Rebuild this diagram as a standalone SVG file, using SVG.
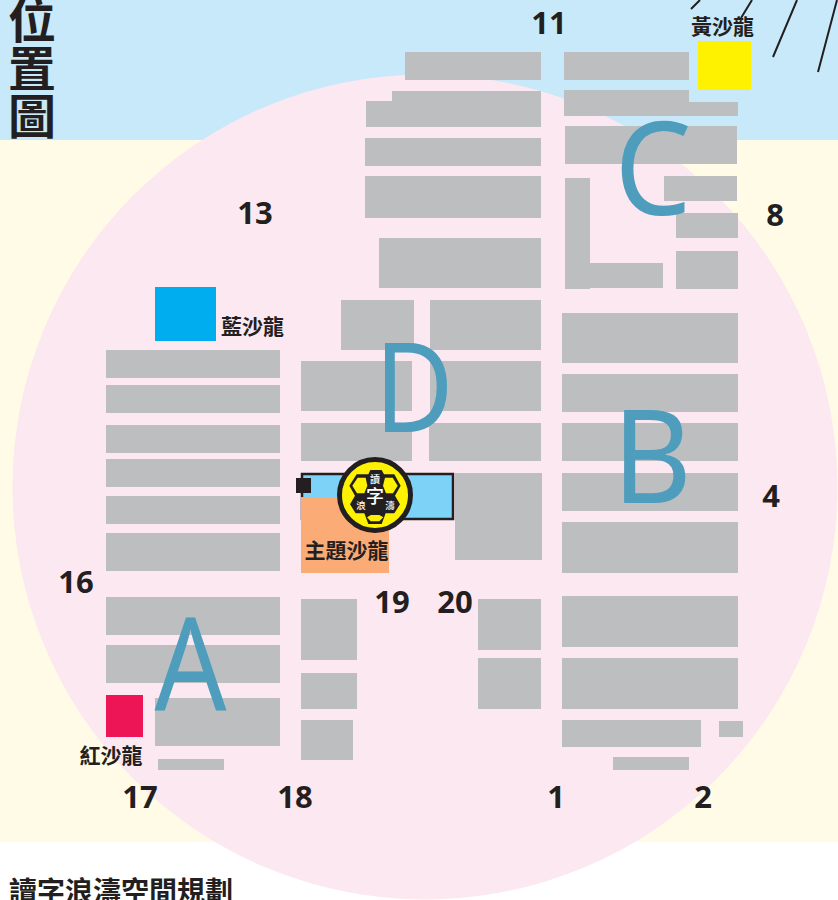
<svg xmlns="http://www.w3.org/2000/svg" width="838" height="900" viewBox="0 0 838 900">
<style>
.b{fill:#bcbec0}
.n{font-family:"Open Sans","Noto Sans","Liberation Sans",sans-serif;font-weight:700;font-size:31px;fill:#231f20;text-anchor:middle}
.l{font-family:"Noto Sans CJK TC","Noto Sans",sans-serif;font-weight:700;font-size:21px;fill:#231f20;text-anchor:middle}
.z{font-family:"Noto Sans","Liberation Sans",sans-serif;font-size:129px;fill:#4f9dbd;text-anchor:middle}
.t{font-family:"Noto Sans CJK TC",sans-serif;font-weight:700;font-size:48px;fill:#231f20;text-anchor:middle}
.w{font-family:"Noto Sans CJK TC",serif;font-weight:500;fill:#fff;text-anchor:middle}
.s{stroke:#231f20;stroke-width:2;fill:none}
</style>
<g id="background">
<rect width="838" height="900" fill="#fff"/>
<rect y="139" width="838" height="703" fill="#fffbe6"/>
<rect width="838" height="140" fill="#c7e9fa"/>
<circle cx="425" cy="487" r="412.500" fill="#fce8f1"/>
</g>
<g id="blocks">
<rect class="b" x="405" y="52" width="136" height="28"/>
<path class="b" d="M392 91H541V127H366V101H392Z"/>
<rect class="b" x="365" y="138" width="176" height="28"/>
<rect class="b" x="365" y="176" width="176" height="42"/>
<rect class="b" x="379" y="238" width="162" height="50"/>
<rect class="b" x="341" y="300" width="73" height="50"/>
<rect class="b" x="430" y="300" width="111" height="50"/>
<rect class="b" x="301" y="361" width="111" height="50"/>
<rect class="b" x="430" y="361" width="111" height="50"/>
<rect class="b" x="301" y="423" width="111" height="38"/>
<rect class="b" x="429" y="423" width="112" height="38"/>
<rect class="b" x="455" y="473" width="87" height="87"/>
<rect class="b" x="564" y="52" width="125" height="28"/>
<path class="b" d="M564 90H689V102H738V116H564Z"/>
<rect class="b" x="565" y="126" width="172" height="38"/>
<path class="b" d="M565 178H590V263H663V288H590V289H565Z"/>
<rect class="b" x="664" y="176" width="73" height="25"/>
<rect class="b" x="676" y="213" width="62" height="25"/>
<rect class="b" x="676" y="251" width="62" height="38"/>
<rect class="b" x="562" y="313" width="176" height="50"/>
<rect class="b" x="562" y="374" width="176" height="38"/>
<rect class="b" x="562" y="423" width="176" height="38"/>
<rect class="b" x="562" y="473" width="176" height="38"/>
<rect class="b" x="562" y="522" width="176" height="51"/>
<rect class="b" x="562" y="596" width="176" height="51"/>
<rect class="b" x="562" y="658" width="176" height="51"/>
<rect class="b" x="562" y="720" width="139" height="27"/>
<rect class="b" x="719" y="721" width="24" height="16"/>
<rect class="b" x="613" y="757" width="76" height="13"/>
<rect class="b" x="106" y="350" width="174" height="28"/>
<rect class="b" x="106" y="385" width="174" height="28"/>
<rect class="b" x="106" y="425" width="174" height="28"/>
<rect class="b" x="106" y="459" width="174" height="28"/>
<rect class="b" x="106" y="496" width="174" height="28"/>
<rect class="b" x="106" y="533" width="174" height="38"/>
<rect class="b" x="106" y="597" width="174" height="38"/>
<rect class="b" x="106" y="645" width="174" height="38"/>
<rect class="b" x="155" y="698" width="125" height="48"/>
<rect class="b" x="158" y="759" width="66" height="11"/>
<rect class="b" x="301" y="599" width="56" height="61"/>
<rect class="b" x="301" y="673" width="56" height="36"/>
<rect class="b" x="301" y="720" width="52" height="40"/>
<rect class="b" x="478" y="599" width="63" height="51"/>
<rect class="b" x="478" y="658" width="63" height="51"/>
</g>
<g id="connectors">
<path class="s" d="M691 9L700 0M741 18L752 0M773 57L797 0M818 72L837 0"/>
</g>
<g id="salon-blue"><rect x="155" y="287" width="61" height="54" fill="#00aeef"/><text class="l" x="252.500" y="334">藍沙龍</text></g>
<g id="salon-yellow"><rect x="698" y="41" width="53" height="49" fill="#fff200"/><text class="l" x="722.500" y="34">黃沙龍</text></g>
<g id="salon-red"><rect x="106" y="695" width="37" height="42" fill="#ed1556"/><text class="l" x="111" y="763">紅沙龍</text></g>
<g id="salon-theme">
<rect x="302" y="474" width="151" height="45" fill="#7dd3f7" stroke="#231f20" stroke-width="2.500"/>
<rect x="301" y="497" width="88" height="76" fill="#fbab76"/>
<rect x="296" y="478" width="15" height="15" fill="#231f20"/>
<text class="l" x="346.500" y="558">主題沙龍</text>
</g>
<g id="logo">
<circle cx="375" cy="495" r="35.500" fill="#fff200" stroke="#231f20" stroke-width="5"/>
<g transform="translate(335 455) scale(.3333)">
<polygon points="65,58 100,58 106,45 140,45 147,58 178,58 197,92 180,122 195,148 178,175 152,175 140,207 100,207 88,175 62,175 45,148 60,122 43,92" fill="#231f20"/>
<polygon points="68,68 92,68 97,92 88,115 66,115 52,92" fill="#fff200"/>
<polygon points="150,68 173,68 188,92 174,115 153,115 144,92" fill="#fff200"/>
<polygon points="108,180 133,180 145,187 133,199 107,199 96,187" fill="#fff200"/>
</g>
<text class="w" x="375" y="483" font-size="10">讀</text>
<text class="w" x="375" y="503" font-size="18" font-weight="700">字</text>
<text class="w" x="361" y="509" font-size="9.500">浪</text>
<text class="w" x="390" y="509" font-size="9.500">濤</text>
</g>
<g id="zone-labels">
<text class="z" transform="translate(190.500 711) scale(.875 1)">A</text>
<text class="z" transform="translate(652 503) scale(.95 1)">B</text>
<text class="z" transform="translate(653 215) scale(.95 1)">C</text>
<text class="z" transform="translate(414 432) scale(.84 .96)">D</text>
</g>
<g id="numbers">
<text class="n" x="549" y="34">11</text>
<text class="n" x="255" y="224">13</text>
<text class="n" x="775" y="226">8</text>
<text class="n" x="771" y="507">4</text>
<text class="n" x="76" y="593">16</text>
<text class="n" x="392" y="613">19</text>
<text class="n" x="455" y="613">20</text>
<text class="n" x="140" y="808">17</text>
<text class="n" x="295" y="808">18</text>
<text class="n" x="556" y="808">1</text>
<text class="n" x="703" y="808">2</text>
</g>
<g id="titles">
<text class="t"><tspan x="32" y="38">位</tspan><tspan x="32" y="86">置</tspan><tspan x="32" y="134">圖</tspan></text>
<text x="9" y="902" font-family="Noto Sans CJK TC,sans-serif" font-weight="700" font-size="28" fill="#231f20">讀字浪濤空間規劃</text>
</g>
</svg>
